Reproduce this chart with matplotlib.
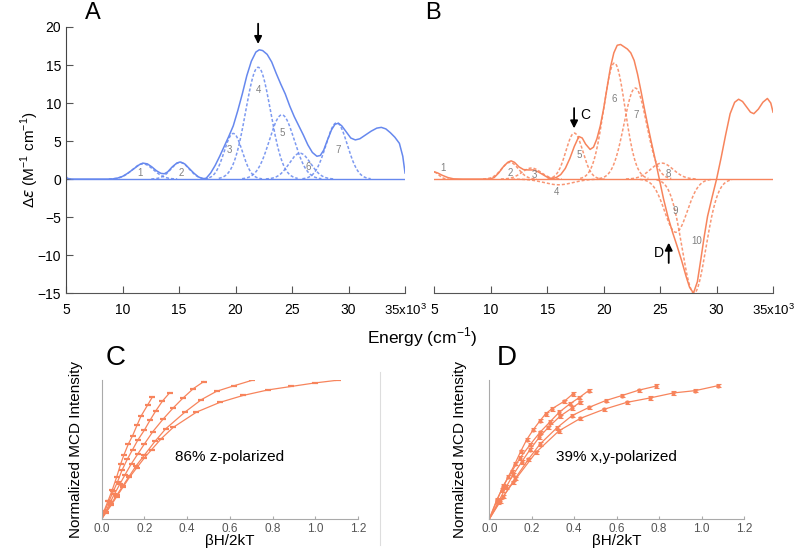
import numpy as np
import matplotlib
matplotlib.use("Agg")
import matplotlib.pyplot as plt
from matplotlib.lines import Line2D

plt.rcParams['font.family'] = ['Liberation Sans', 'DejaVu Sans']
plt.rcParams['mathtext.fontset'] = 'custom'
plt.rcParams['mathtext.rm'] = 'Liberation Sans'

# ---------------------------------------------------------------
# Data
# ---------------------------------------------------------------
BLUE = '#6688ee'
ORANGE = '#f7845c'
GRAY_LBL = '#808080'

# panel A: total MCD spectrum (energy in 10^3 cm-1, delta eps)
a_energy = [5.0, 5.01, 5.03, 5.1, 5.5, 9.0, 9.5, 10.0, 10.5, 11.0, 11.5, 11.8, 12.2,
            12.6, 13.0, 13.4, 13.7, 14.0, 14.4, 14.8, 15.1, 15.5, 15.9, 16.3, 16.7,
            17.1, 17.4, 17.8, 18.2, 18.6, 19.0, 19.4, 19.8, 20.2, 20.6, 21.0, 21.4,
            21.8, 22.1, 22.4, 22.8, 23.2, 23.6, 24.0, 24.4, 24.8, 25.2, 25.6, 26.0,
            26.4, 26.8, 27.2, 27.5, 27.8, 28.1, 28.5, 28.8, 29.1, 29.4, 29.8, 30.2,
            30.6, 31.0, 31.5, 32.0, 32.5, 32.9, 33.3, 33.7, 34.1, 34.5, 34.8, 35.0]
a_total = [4.7, -2.3, 0.3, 0.1, 0.0, 0.0, 0.1, 0.35, 0.8, 1.35, 1.9, 2.1, 2.0,
           1.6, 1.1, 0.75, 0.7, 0.95, 1.6, 2.1, 2.25, 2.0, 1.4, 0.8, 0.3,
           0.05, 0.1, 0.8, 1.8, 3.0, 4.3, 5.6, 7.0, 9.0, 11.2, 13.6, 15.5,
           16.7, 17.0, 16.9, 16.4, 15.4, 13.9, 12.5, 11.2, 9.6, 8.2, 7.0, 5.8,
           4.5, 3.5, 3.0, 3.1, 3.8, 5.0, 6.5, 7.2, 7.35, 7.0, 6.2, 5.4,
           5.15, 5.3, 5.8, 6.3, 6.7, 6.8, 6.6, 6.1, 5.5, 4.7, 3.0, 0.8]

# panel A: gaussian bands of the deconvolution
a_band_id = ['1', '2', '3', '4', '5', '6', '7']
a_center = [11.8, 15.1, 19.8, 22.0, 24.1, 25.7, 28.95]
a_height = [2.0, 2.2, 6.0, 14.7, 8.45, 3.4, 7.4]
a_sigma = [0.95, 0.8, 0.8, 1.1, 1.1, 0.95, 0.95]
a_lbl_x = [11.55, 15.2, 19.5, 22.0, 24.17, 26.45, 29.1]
a_lbl_y = [0.8, 0.8, 3.85, 11.65, 6.05, 1.65, 3.85]

# panel B: total spectrum
b_energy = [5.0, 5.3, 5.7, 6.2, 6.7, 7.5, 9.9, 10.3, 10.7, 11.1, 11.5, 11.8, 12.1,
            12.5, 12.9, 13.3, 13.8, 14.2, 14.6, 15.0, 15.4, 15.8, 16.2, 16.6, 17.0,
            17.4, 17.8, 18.1, 18.4, 18.8, 19.1, 19.4, 19.7, 20.0, 20.3, 20.6, 20.9,
            21.2, 21.5, 21.8, 22.1, 22.4, 22.7, 23.0, 23.3, 23.6, 23.9, 24.2, 24.5,
            24.9, 25.3, 25.7, 26.1, 26.5, 26.9, 27.3, 27.6, 27.95, 28.3, 28.6, 28.9,
            29.2, 29.6, 30.0, 30.4, 30.8, 31.2, 31.6, 31.95, 32.3, 32.7, 33.0, 33.3,
            33.7, 34.1, 34.5, 34.8, 35.0]
b_total = [0.95, 0.8, 0.5, 0.2, 0.03, 0.0, 0.0, 0.2, 0.8, 1.6, 2.2, 2.4, 2.2,
           1.6, 1.25, 1.2, 1.2, 0.95, 0.6, 0.25, 0.05, 0.2, 0.6, 1.4, 2.7,
           4.3, 5.6, 5.4, 4.6, 3.9, 4.2, 5.3, 7.0, 9.3, 12.0, 14.7, 16.6,
           17.6, 17.7, 17.4, 17.1, 16.6, 15.6, 13.8, 11.6, 9.3, 7.1, 5.0, 3.0,
           0.2, -2.6, -5.0, -7.0, -8.8, -10.7, -12.8, -14.2, -15.0, -13.5, -10.6, -7.6,
           -4.9, -2.4, 0.0, 2.8, 5.8, 8.6, 10.1, 10.5, 10.2, 9.4, 8.8, 8.6,
           9.2, 10.1, 10.6, 10.0, 8.8]

b_band_id = ['1', '2', '3', '4', '5', '6', '7', '8', '9', '10']
b_center = [5.0, 11.7, 13.6, 16.0, 17.4, 20.95, 22.8, 25.15, 26.4, 28.0]
b_height = [0.9, 2.2, 1.45, -0.75, 6.05, 15.26, 11.97, 2.1, -7.0, -15.0]
b_sigma = [0.4, 0.75, 0.85, 1.3, 0.75, 0.95, 1.0, 1.0, 1.0, 1.05]
b_lbl_x = [5.74, 11.7, 13.86, 15.85, 17.85, 20.95, 22.9, 25.73, 26.3, 28.2]
b_lbl_y = [1.45, 0.8, 0.57, -1.76, 3.2, 10.5, 8.45, 0.7, -4.26, -8.2]

# panel C: VTVH saturation curves at band C
c_curves = [
    ([0, .012, .03, .05, .07, .09, .104, .125, .145, .167, .184, .215, .238],
     [0, .06, .13, .21, .30, .40, .46, .54, .60, .68, .74, .82, .88]),
    ([0, .015, .035, .055, .075, .095, .12, .145, .17, .2, .226, .254, .285, .319],
     [0, .06, .13, .20, .27, .35, .43, .50, .57, .64, .71, .78, .85, .91]),
    ([0, .018, .04, .06, .085, .11, .14, .17, .2, .24, .288, .335, .38, .43, .478],
     [0, .05, .12, .18, .25, .32, .40, .47, .54, .63, .72, .80, .87, .94, .99]),
    ([0, .02, .045, .07, .1, .13, .16, .2, .25, .3, .39, .467, .538, .62, .706],
     [0, .05, .11, .17, .24, .31, .38, .46, .56, .65, .77, .86, .92, .96, 1.0]),
    ([0, .02, .045, .07, .1, .13, .165, .2, .234, .28, .335, .444, .553, .662, .779,
      .888, .997, 1.106],
     [0, .045, .10, .16, .23, .30, .37, .44, .50, .58, .66, .77, .84, .89, .93,
      .955, .98, 1.0]),
]

# panel D: VTVH saturation curves at band D
d_curves = [
    ([0, .035, .058, .09, .121, .148, .176, .207, .239, .265, .294, .353, .393],
     [0, .137, .21, .306, .398, .487, .571, .643, .708, .757, .793, .848, .90]),
    ([0, .035, .066, .105, .145, .192, .239, .286, .33, .38, .424, .468],
     [0, .13, .24, .34, .44, .535, .625, .70, .77, .83, .875, .925]),
    ([0, .042, .079, .113, .152, .192, .236, .278, .333, .39, .427],
     [0, .12, .23, .32, .41, .50, .59, .66, .74, .80, .84]),
    ([0, .066, .121, .184, .239, .317, .39, .471, .548, .624, .704, .785],
     [0, .161, .29, .43, .54, .655, .745, .805, .853, .889, .928, .957]),
    ([0, .05, .113, .22, .328, .429, .54, .647, .757, .867, .971, 1.079],
     [0, .13, .265, .48, .635, .725, .79, .84, .872, .908, .925, .961]),
]

x_ticks_e = [5, 10, 15, 20, 25, 30]
y_ticks_e = [20, 15, 10, 5, 0, -5, -10, -15]
vtvh_ticks = [0.0, 0.2, 0.4, 0.6, 0.8, 1.0, 1.2]


def gauss(x, c, h, s):
    return h * np.exp(-0.5 * ((x - c) / s) ** 2)


fig = plt.figure(figsize=(8, 5.51), dpi=100)
grid = np.linspace(5, 35, 800)

# ---------------------------------------------------------------
# A / B spectra
# ---------------------------------------------------------------
def spectrum_axes(rect, color, energy, total, centers, heights, sigmas, ids, lx, ly, show_y):
    ax = fig.add_axes(rect)
    ax.set_xlim(5, 35)
    ax.set_ylim(-15, 20)
    ax.axhline(0, color=color, lw=1.0, zorder=1)
    for c, h, s in zip(centers, heights, sigmas):
        m = np.abs(grid - c) < 3.2 * s
        ax.plot(grid[m], gauss(grid[m], c, h, s), color=color, lw=1.1,
                ls=(0, (2, 1.3)), alpha=0.85)
    ax.plot(energy, total, color=color, lw=1.1)
    for t, x, y in zip(ids, lx, ly):
        ax.text(x, y, t, fontsize=7, color=GRAY_LBL, ha='center', va='center')
    for s in ['top', 'right']:
        ax.spines[s].set_visible(False)
    ax.spines['bottom'].set_color('#555555')
    ax.set_xticks(x_ticks_e + [35])
    ax.set_xticklabels([str(v) for v in x_ticks_e] + [''])
    ax.tick_params(axis='x', direction='in', length=5, pad=7, labelsize=10,
                   color='#555555')
    if show_y:
        ax.spines['left'].set_color('#444444')
        ax.set_yticks(y_ticks_e)
        ax.tick_params(axis='y', direction='in', length=5, labelsize=10, color='#555555')
    else:
        ax.spines['left'].set_visible(False)
        ax.set_yticks([])
    ax.text(33.15, -0.066, r'35x10$^{3}$', transform=ax.get_xaxis_transform(),
            fontsize=9.5, ha='left', va='center')
    return ax


axA = spectrum_axes([0.0825, 0.468, 0.4238, 0.483], BLUE, a_energy, a_total,
                    a_center, a_height, a_sigma, a_band_id, a_lbl_x, a_lbl_y, True)
axB = spectrum_axes([0.5429, 0.468, 0.4234, 0.483], ORANGE, b_energy, b_total,
                    b_center, b_height, b_sigma, b_band_id, b_lbl_x, b_lbl_y, False)

arrow = dict(arrowstyle='-|>', color='black', lw=1.3, mutation_scale=11)
axA.annotate('', xy=(22.0, 17.4), xytext=(22.0, 20.8), arrowprops=arrow,
             annotation_clip=False)
axB.annotate('', xy=(17.38, 6.3), xytext=(17.38, 9.7), arrowprops=arrow)
axB.text(18.4, 8.45, 'C', fontsize=10, ha='center', va='center')
axB.annotate('', xy=(25.76, -8.0), xytext=(25.76, -11.4), arrowprops=arrow)
axB.text(24.85, -9.75, 'D', fontsize=10, ha='center', va='center')

fig.text(0.116, 0.976, 'A', fontsize=17, ha='center', va='center')
fig.text(0.541, 0.976, 'B', fontsize=17, ha='center', va='center')
fig.text(0.037, 0.71, r'$\Delta\epsilon$ (M$^{-1}$ cm$^{-1}$)', rotation=90,
         fontsize=11, ha='center', va='center')
fig.text(0.527, 0.388, r'Energy (cm$^{-1}$)', fontsize=12.5, ha='center', va='center')

# ---------------------------------------------------------------
# C / D saturation magnetization
# ---------------------------------------------------------------
def vtvh_axes(rect, curves, note, errbars, ylab_x):
    ax = fig.add_axes(rect)
    for xs, ys in curves:
        ax.plot(xs, ys, color=ORANGE, lw=0.9)
        if errbars:
            ax.errorbar(xs[1:], ys[1:], yerr=0.012, fmt='o', ms=2, color=ORANGE,
                        elinewidth=0.8, capsize=1.8, capthick=0.8)
        else:
            ax.plot(xs[1:], ys[1:], ls='none', marker='_', ms=4, mew=1.6, color=ORANGE)
    ax.set_xlim(0, 1.2)
    ax.set_ylim(0, 1.0)
    for s in ['top', 'right']:
        ax.spines[s].set_visible(False)
    ax.spines['left'].set_color('#aaaaaa')
    ax.spines['bottom'].set_color('#aaaaaa')
    ax.set_yticks([])
    ax.set_xticks(vtvh_ticks)
    ax.set_xticklabels(['%.1f' % v for v in vtvh_ticks])
    ax.tick_params(axis='x', direction='in', length=2, color='#aaaaaa', labelsize=8.5,
                   labelcolor='#555555', pad=3)
    ax.set_xlabel('βH/2kT', fontsize=11)
    ax.xaxis.set_label_coords(0.5, -0.105)
    ax.set_ylabel('Normalized MCD Intensity', fontsize=11)
    ax.yaxis.set_label_coords(ylab_x, 0.5)
    ax.text(0.5, 0.45, note, transform=ax.transAxes, fontsize=11, ha='center',
            va='center')
    return ax


axC = vtvh_axes([0.127, 0.058, 0.3205, 0.252], c_curves, '86% z-polarized', False, -0.074)
axD = vtvh_axes([0.6116, 0.058, 0.3184, 0.252], d_curves, '39% x,y-polarized', True, -0.089)

fig.text(0.144, 0.350, 'C', fontsize=20, ha='center', va='center')
fig.text(0.634, 0.350, 'D', fontsize=20, ha='center', va='center')
fig.add_artist(Line2D([0.475, 0.475], [0.01, 0.325], color='#dddddd', lw=0.8))

fig.savefig('out.png', dpi=100)
